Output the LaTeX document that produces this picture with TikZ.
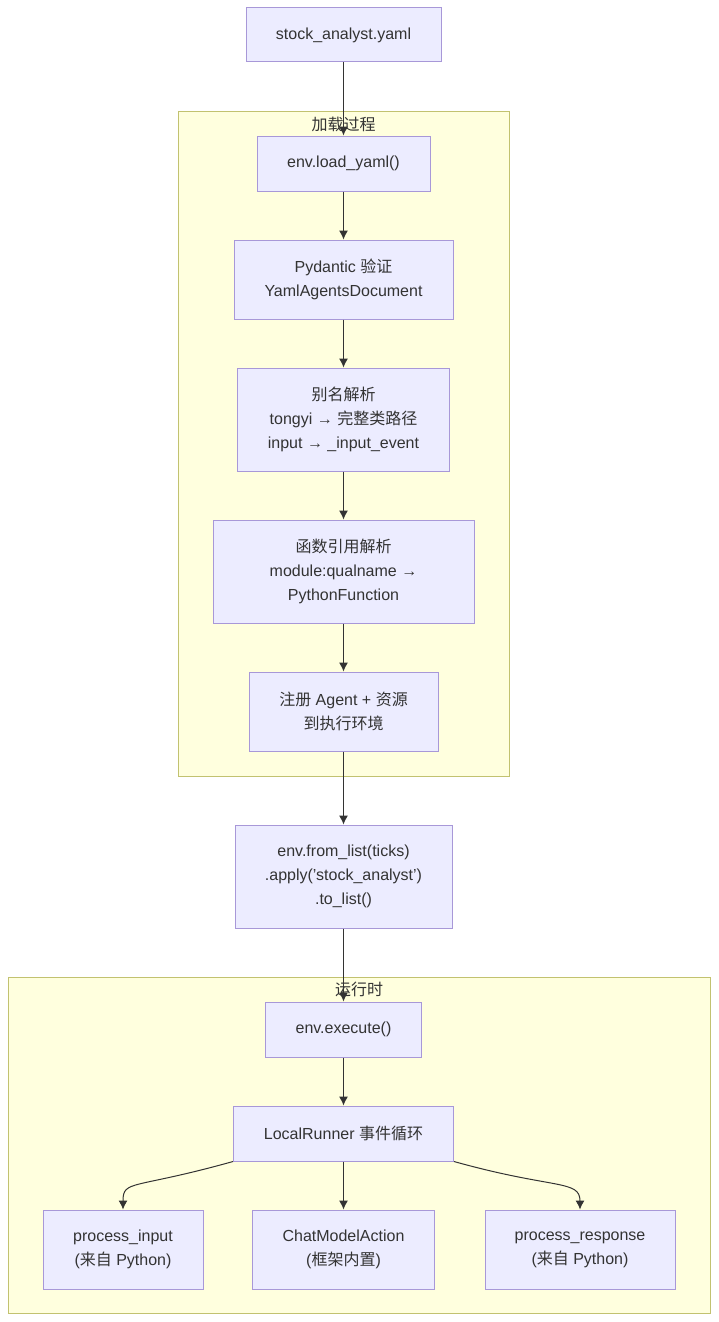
\documentclass[tikz,border=0pt]{standalone}
\usepackage{fontspec}
\setmainfont{Liberation Sans}
\newfontfamily\cjk{Noto Sans CJK SC}
\usetikzlibrary{arrows.meta}
\definecolor{nodefill}{HTML}{ECECFF}
\definecolor{nodeline}{HTML}{A898D8}
\definecolor{clfill}{HTML}{FFFFDE}
\definecolor{clline}{HTML}{C2C270}
\definecolor{txt}{HTML}{333333}
\tikzset{
  box/.style={draw=nodeline, fill=nodefill, line width=1pt, align=center, text=txt,
    font=\fontsize{16}{24}\selectfont, inner sep=0pt},
  cluster/.style={draw=clline, fill=clfill, line width=1pt},
  cltitle/.style={text=txt, font=\fontsize{16}{20}\selectfont\cjk, inner sep=0pt},
  conn/.style={draw=txt, line width=1pt, -{Latex[length=9pt,width=9pt]}},
}
\begin{document}
\begin{tikzpicture}[x=1pt,y=-1pt]
\useasboundingbox[fill=white] (0,0) rectangle (718,1322);
% clusters
\draw[cluster] (178,111) rectangle (509,776);
\node[cltitle] (t1) at (343.5,124) {加载过程};
\draw[cluster] (8,977) rectangle (710,1313);
\node[cltitle] (t2) at (359,989) {运行时};
% nodes
\node[box, minimum width=195pt, minimum height=54pt] (yaml) at (343.5,35) {stock\_analyst.yaml};
\node[box, minimum width=173pt, minimum height=55pt] (load) at (343.5,163.5) {env.load\_yaml()};
\node[box, minimum width=219pt, minimum height=79pt] (pyd) at (343.5,279.5) {Pydantic {\cjk 验证}\\YamlAgentsDocument};
\node[box, minimum width=212pt, minimum height=103pt] (alias) at (343.5,419.5) {{\cjk 别名解析}\\tongyi → {\cjk 完整类路径}\\input → \_input\_event};
\node[box, minimum width=261pt, minimum height=103pt] (func) at (343.5,571.5) {{\cjk 函数引用解析}\\module:qualname →\\PythonFunction};
\node[box, minimum width=189pt, minimum height=79pt] (reg) at (343.5,711.5) {{\cjk 注册} Agent + {\cjk 资源}\\{\cjk 到执行环境}};
\node[box, minimum width=217pt, minimum height=103pt] (list) at (343.5,876.5) {env.from\_list(ticks)\\.apply('stock\_analyst')\\.to\_list()};
\node[box, minimum width=156pt, minimum height=55pt] (exec) at (343.5,1029.5) {env.execute()};
\node[box, minimum width=220pt, minimum height=55pt] (lr) at (343.5,1133.5) {LocalRunner {\cjk 事件循环}};
\node[box, minimum width=160pt, minimum height=79pt] (pi) at (123,1249.5) {process\_input\\({\cjk 来自} Python)};
\node[box, minimum width=182pt, minimum height=79pt] (cma) at (343.5,1249.5) {ChatModelAction\\({\cjk 框架内置})};
\node[box, minimum width=190pt, minimum height=79pt] (pr) at (580,1249.5) {process\_response\\({\cjk 来自} Python)};
% connectors
\draw[conn] (yaml) -- (load);
\draw[conn] (load) -- (pyd);
\draw[conn] (pyd) -- (alias);
\draw[conn] (alias) -- (func);
\draw[conn] (func) -- (reg);
\draw[conn] (reg) -- (list);
\draw[conn] (list) -- (exec);
\draw[conn] (exec) -- (lr);
\draw[conn] (lr.south west) .. controls +(-100,28) and +(0,-30) .. (pi.north);
\draw[conn] (lr) -- (cma);
\draw[conn] (lr.south east) .. controls +(100,28) and +(0,-30) .. (pr.north);
\end{tikzpicture}
\end{document}
